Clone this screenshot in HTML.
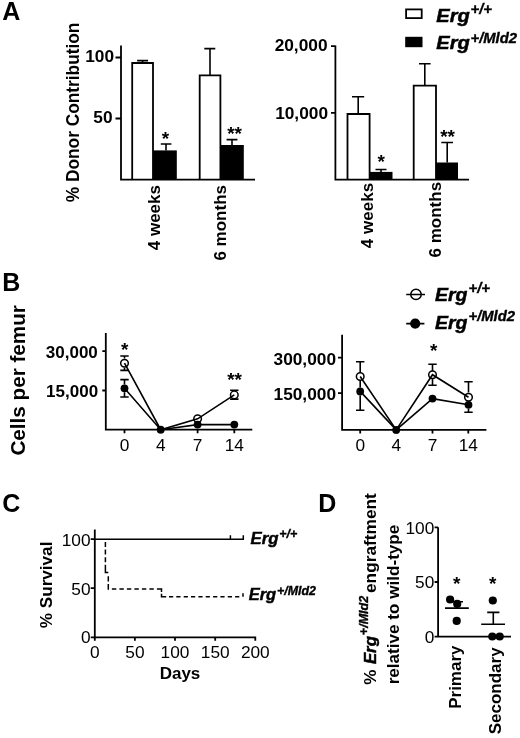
<!DOCTYPE html>
<html><head><meta charset="utf-8">
<style>
html,body{margin:0;padding:0;background:#fff;width:520px;height:738px;overflow:hidden;}
.wrap{will-change:transform;width:520px;height:738px;}
svg{display:block;}
text{font-family:"Liberation Sans",sans-serif;fill:#000;}
.pl{font-size:25px;font-weight:bold;}
.b17{font-size:17px;font-weight:bold;}
.bt{font-size:17.3px;font-weight:bold;}
.r17{font-size:17.3px;}
.ast{font-size:19px;font-weight:bold;}
.bi{font-size:18px;font-weight:bold;font-style:italic;stroke:#000;stroke-width:0.45;}
.sup{font-size:14.5px;font-weight:bold;font-style:italic;stroke:#000;stroke-width:0.35;}
.ax{stroke:#000;stroke-width:1.8;fill:none;}
.ln{stroke:#000;stroke-width:1.6;fill:none;}
.oc{fill:none;stroke:#000;stroke-width:1.5;}
</style></head>
<body><div class="wrap">
<svg width="520" height="738" viewBox="0 0 520 738">
<rect width="520" height="738" fill="#fff"/>
<text class="pl" x="2.2" y="20">A</text>
<text class="b17" style="font-size:18px" transform="translate(79,202.2) rotate(-90)" textLength="179.6" lengthAdjust="spacingAndGlyphs">% Donor Contribution</text>
<path class="ax" d="M121,45.5 V180.5 M120.1,179.6 H255 M115.5,57.5 H121 M115.5,118.5 H121"/>
<text class="bt" x="114" y="62.2" text-anchor="end">100</text>
<text class="bt" x="112.6" y="122.7" text-anchor="end">50</text>
<path class="ax" d="M132.2,179.6 V63 H153 V179.6"/>
<rect x="153" y="150.4" width="23.8" height="29.2" fill="#000"/>
<path class="ax" d="M199.7,179.6 V75.3 H220.4 V179.6"/>
<rect x="220.4" y="145" width="23.4" height="34.6" fill="#000"/>
<path class="ln" d="M142.6,63 V60.6 M137.1,60.6 H148.1 M166,150.4 V144 M160.8,144 H171.4 M210,75.3 V48.6 M204.3,48.6 H215.3 M232,145 V139.6 M226.6,139.6 H237.4"/>
<text class="ast" x="165.5" y="144.9" text-anchor="middle">*</text>
<text class="ast" x="234.6" y="139.6" text-anchor="middle">**</text>
<text class="b17" transform="translate(160.2,185) rotate(-90)" text-anchor="end">4 weeks</text>
<text class="b17" transform="translate(226,185) rotate(-90)" text-anchor="end">6 months</text>
<path class="ax" d="M335.4,45.5 V180.5 M334.5,179.6 H469 M331,46.2 H335.4 M331,112.9 H335.4"/>
<text class="bt" x="327.5" y="50.9" text-anchor="end">20,000</text>
<text class="bt" x="328" y="118.5" text-anchor="end">10,000</text>
<path class="ax" d="M347.5,179.6 V114 H369.6 V179.6"/>
<rect x="369.6" y="171.9" width="22.9" height="7.7" fill="#000"/>
<path class="ax" d="M413.7,179.6 V85.7 H436 V179.6"/>
<rect x="436" y="162.5" width="22" height="17.1" fill="#000"/>
<path class="ln" d="M358.2,114 V96.8 M352,96.8 H364.2 M381,171.9 V169.5 M375.5,169.5 H386.5 M424.8,85.7 V63.7 M419,63.7 H430.6 M447.2,162.5 V142.5 M441.3,142.5 H453"/>
<text class="ast" x="381.2" y="168.1" text-anchor="middle">*</text>
<text class="ast" x="447.6" y="142.5" text-anchor="middle">**</text>
<text class="b17" transform="translate(373.3,182.9) rotate(-90)" text-anchor="end">4 weeks</text>
<text class="b17" transform="translate(441.3,181.9) rotate(-90)" text-anchor="end">6 months</text>
<rect x="406.1" y="9.4" width="15.6" height="8.7" fill="#fff" stroke="#000" stroke-width="1.8"/>
<rect x="405.2" y="36.8" width="17.3" height="10.4" fill="#000"/>
<text class="bi" x="436.3" y="22.3" textLength="33.5" lengthAdjust="spacingAndGlyphs">Erg</text>
<text class="sup" x="470.5" y="14.3" textLength="21.5" lengthAdjust="spacingAndGlyphs">+/+</text>
<text class="bi" x="436.3" y="48.8" textLength="33.5" lengthAdjust="spacingAndGlyphs">Erg</text>
<text class="sup" x="470.5" y="43" textLength="46.5" lengthAdjust="spacingAndGlyphs">+/Mld2</text>
<text class="pl" x="2.2" y="290.7">B</text>
<text class="b17" style="font-size:20.5px" transform="translate(25.3,455.6) rotate(-90)" textLength="150.5" lengthAdjust="spacingAndGlyphs">Cells per femur</text>
<path class="ax" d="M105.8,333 V430.5 M104.9,429.7 H252.3 M102.3,351.1 H105.8 M102.3,390.5 H105.8 M124.5,429.7 V433.3 M160.7,429.7 V433.3 M197.6,429.7 V433.3 M234.3,429.7 V433.3"/>
<text class="b17" x="97.8" y="357.5" text-anchor="end">30,000</text>
<text class="b17" x="98.1" y="397.1" text-anchor="end">15,000</text>
<text class="r17" x="124.5" y="450.5" text-anchor="middle">0</text>
<text class="r17" x="160.7" y="450.5" text-anchor="middle">4</text>
<text class="r17" x="197.6" y="450.5" text-anchor="middle">7</text>
<text class="r17" x="234.3" y="450.5" text-anchor="middle">14</text>
<path class="ln" d="M124.5,363.2 L160.7,429.7 L197.6,418.8 L234.3,394.9"/>
<path class="ln" d="M124.5,388.3 L160.7,429.7 L197.6,424.6 L234.3,424.6"/>
<path class="ln" d="M124.5,356 V358.6 M124.5,367.8 V370.4 M120.3,356 H128.7 M120.3,370.4 H128.7 M124.5,379.6 V384.4 M124.5,392.2 V397 M120.3,379.6 H128.7 M120.3,397 H128.7 M230.1,390.2 H238.5 M230.1,399.1 H238.5"/>
<circle class="oc" cx="124.5" cy="363.2" r="3.8"/>
<circle class="oc" cx="197.6" cy="418.8" r="3.8"/>
<circle class="oc" cx="234.3" cy="394.9" r="3.8"/>
<circle cx="124.5" cy="388.3" r="3.9" fill="#000"/>
<circle cx="160.7" cy="429.7" r="3.9" fill="#000"/>
<circle cx="197.6" cy="424.6" r="3.9" fill="#000"/>
<circle cx="234.3" cy="424.6" r="3.9" fill="#000"/>
<text class="ast" x="124.6" y="355.6" text-anchor="middle">*</text>
<text class="ast" x="234.6" y="385.7" text-anchor="middle">**</text>
<path class="ax" d="M342.1,334.8 V430.8 M341.2,429.9 H486.4 M338,357.7 H342.1 M338,393.2 H342.1 M360.2,429.9 V433.5 M396.2,429.9 V433.5 M432.5,429.9 V433.5 M468.3,429.9 V433.5"/>
<text class="bt" x="336" y="364.5" text-anchor="end">300,000</text>
<text class="bt" x="336" y="400" text-anchor="end">150,000</text>
<text class="r17" x="360.2" y="450.5" text-anchor="middle">0</text>
<text class="r17" x="396.2" y="450.5" text-anchor="middle">4</text>
<text class="r17" x="432.5" y="450.5" text-anchor="middle">7</text>
<text class="r17" x="468.3" y="450.5" text-anchor="middle">14</text>
<path class="ln" d="M360.2,376.5 L396.2,429.9 L432.5,374.7 L468.5,397.2"/>
<path class="ln" d="M360.2,391.4 L396.2,429.9 L432.5,398.6 L468.5,404.8"/>
<path class="ln" d="M360.2,361.7 V372.7 M360.2,380.3 V387.5 M360.2,395.3 V410.2 M356,361.7 H364.4 M356,410.2 H364.4 M432.5,364.2 V370.9 M432.5,378.5 V385.2 M428.3,364.2 H436.7 M428.3,385.2 H436.7 M468.5,381.8 V392.6 M468.5,408.7 V412.2 M464.3,381.8 H472.7 M464.3,412.2 H472.7"/>
<circle class="oc" cx="360.2" cy="376.5" r="3.8"/>
<circle class="oc" cx="432.5" cy="374.7" r="3.8"/>
<circle class="oc" cx="468.5" cy="397.2" r="3.8"/>
<circle cx="360.2" cy="391.4" r="3.9" fill="#000"/>
<circle cx="396.2" cy="429.9" r="3.9" fill="#000"/>
<circle cx="432.5" cy="398.6" r="3.9" fill="#000"/>
<circle cx="468.5" cy="404.8" r="3.9" fill="#000"/>
<text class="ast" x="433.7" y="356.8" text-anchor="middle">*</text>
<path class="ln" d="M406.2,294.5 H425 M406.2,323.6 H424.4"/>
<circle class="oc" cx="416" cy="294.4" r="5.2"/>
<circle cx="415.2" cy="323.6" r="5.1" fill="#000"/>
<text class="bi" x="435" y="300.7" textLength="32.5" lengthAdjust="spacingAndGlyphs">Erg</text>
<text class="sup" x="468.5" y="293.2" textLength="21.5" lengthAdjust="spacingAndGlyphs">+/+</text>
<text class="bi" x="435" y="328.7" textLength="32.5" lengthAdjust="spacingAndGlyphs">Erg</text>
<text class="sup" x="468.5" y="321.2" textLength="46.5" lengthAdjust="spacingAndGlyphs">+/Mld2</text>
<text class="pl" x="2.3" y="511.5">C</text>
<text class="b17" transform="translate(52.4,628.2) rotate(-90)" textLength="86.6" lengthAdjust="spacingAndGlyphs">% Survival</text>
<path class="ax" d="M94.8,529.5 V640.8 M94,637.3 H256.2 M90.7,539.2 H94.8 M90.7,588.2 H94.8 M90.7,637.3 H94.8 M134.9,637.3 V640.8 M175,637.3 V640.8 M215.2,637.3 V640.8 M255.3,637.3 V640.8"/>
<text class="r17" x="90.5" y="545.5" text-anchor="end">100</text>
<text class="r17" x="90.5" y="594.6" text-anchor="end">50</text>
<text class="r17" x="90.5" y="643.4" text-anchor="end">0</text>
<text class="r17" x="94.8" y="658.3" text-anchor="middle">0</text>
<text class="r17" x="134.9" y="658.3" text-anchor="middle">50</text>
<text class="r17" x="175" y="658.3" text-anchor="middle">100</text>
<text class="r17" x="215.2" y="658.3" text-anchor="middle">150</text>
<text class="r17" x="255.3" y="658.3" text-anchor="middle">200</text>
<text class="b17" x="180" y="678.5" text-anchor="middle">Days</text>
<path class="ln" style="stroke-width:1.5" d="M94.8,539.3 H243.3 V535.3 M230.4,539.3 V535.3"/>
<path class="ln" style="stroke-width:1.5" d="M105.4,542.0 V547.0 M105.4,549.6 V554.6 M105.4,557.2 V562.2 M105.4,564.8 V572.6 H108.3 M108.3,576.2 V581.4 M108.3,584.1 V588.9 H109 M111.9,588.9 H116.3 M119.4,588.9 H123.8 M126.9,588.9 H131.3 M134.4,588.9 H138.8 M141.9,588.9 H146.3 M149.4,588.9 H153.8 M156.9,588.9 H161.5 V592 M161.5,593.8 V596.7 H166.2 M169.0,596.7 H173.2 M176.3,596.7 H180.5 M183.7,596.7 H187.9 M191.0,596.7 H195.2 M198.4,596.7 H202.6 M205.7,596.7 H209.9 M213.1,596.7 H217.3 M220.4,596.7 H224.6 M227.8,596.7 H232.0 M235.1,596.7 H239.3 M243,596.7 V593.3"/>
<text class="bi" x="250.6" y="544.3" textLength="28" lengthAdjust="spacingAndGlyphs" style="font-size:17px">Erg</text>
<text class="sup" x="279.3" y="538.3" textLength="18" lengthAdjust="spacingAndGlyphs" style="font-size:12.5px">+/+</text>
<text class="bi" x="248.7" y="600.4" textLength="27.5" lengthAdjust="spacingAndGlyphs" style="font-size:17px">Erg</text>
<text class="sup" x="277" y="594.7" textLength="39" lengthAdjust="spacingAndGlyphs" style="font-size:12.5px">+/Mld2</text>
<text class="pl" x="318.2" y="511.5">D</text>
<g transform="translate(375.8,683.5) rotate(-90)">
<text class="b17" x="-1.2" y="0">%</text>
<text class="bi" style="font-size:17px" x="19.4" y="0" textLength="28" lengthAdjust="spacingAndGlyphs">Erg</text>
<text class="sup" style="font-size:12.5px" x="48.3" y="-7.5" textLength="39.5" lengthAdjust="spacingAndGlyphs">+/Mld2</text>
<text class="b17" x="90.5" y="0" textLength="99.8" lengthAdjust="spacingAndGlyphs">engraftment</text>
</g>
<text class="b17" transform="translate(399,684.3) rotate(-90)" textLength="159.6" lengthAdjust="spacingAndGlyphs">relative to wild-type</text>
<path class="ax" d="M438.1,527.3 V637.5 M437.2,636.6 H511 M434.6,527.3 H438.1 M434.6,582 H438.1 M434.6,636.6 H438.1"/>
<text class="r17" x="434.3" y="534.3" text-anchor="end">100</text>
<text class="r17" x="434.3" y="588" text-anchor="end">50</text>
<text class="r17" x="434.3" y="643.3" text-anchor="end">0</text>
<circle cx="450.1" cy="599.5" r="4.1" fill="#000"/>
<circle cx="457.2" cy="603.9" r="4.1" fill="#000"/>
<circle cx="456.7" cy="620.9" r="4.1" fill="#000"/>
<path class="ln" d="M445,608.1 H468.8 M456.9,608.1 V601.8 M451,601.8 H463"/>
<circle cx="492.8" cy="600.5" r="4.1" fill="#000"/>
<circle cx="492.3" cy="636.5" r="4.1" fill="#000"/>
<circle cx="499.7" cy="636.5" r="4.1" fill="#000"/>
<path class="ln" d="M481.2,624.3 H505 M493.3,624.3 V612.4 M487.2,612.4 H499.4"/>
<text class="ast" x="456.7" y="589.6" text-anchor="middle">*</text>
<text class="ast" x="492.8" y="589.5" text-anchor="middle">*</text>
<text class="b17" transform="translate(461.2,645.5) rotate(-90)" text-anchor="end">Primary</text>
<text class="b17" transform="translate(501,647.4) rotate(-90)" text-anchor="end">Secondary</text>
</svg>
</div></body></html>
